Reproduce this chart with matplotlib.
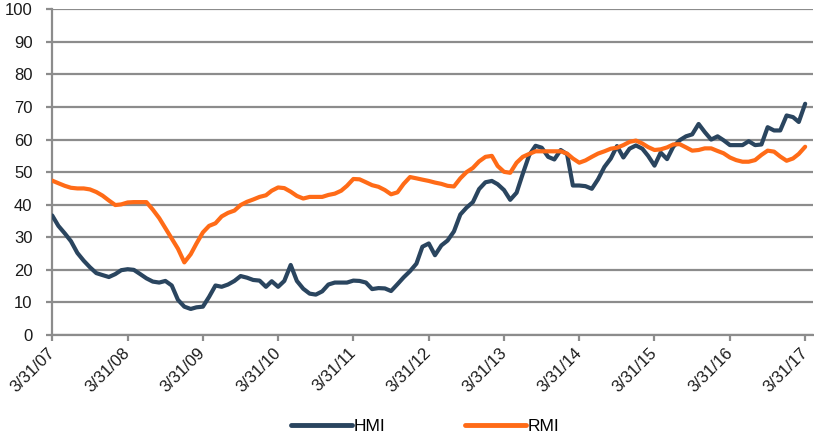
import matplotlib
matplotlib.use("Agg")
import matplotlib.pyplot as plt
import pandas as pd

# ---- data (monthly) ----
dates = pd.date_range("2007-03-31", "2017-03-31", freq="ME")

hmi = [36.7, 33.5, 31.2, 28.8, 25.2, 22.8, 20.8, 19.0, 18.4, 17.8, 18.7, 19.9,
       20.2, 20.0, 18.7, 17.4, 16.4, 16.1, 16.6, 15.2, 10.8, 8.7, 8.0, 8.5,
       8.7, 11.7, 15.2, 14.8, 15.5, 16.6, 18.1, 17.6, 16.9, 16.7, 14.8, 16.5,
       14.8, 16.6, 21.5, 16.6, 14.2, 12.7, 12.4, 13.4, 15.5, 16.1, 16.1, 16.1,
       16.7, 16.6, 16.1, 14.1, 14.4, 14.3, 13.5, 15.6, 17.7, 19.6, 21.9, 27.1,
       28.1, 24.5, 27.5, 29.0, 31.8, 37.0, 39.1, 40.8, 44.8, 46.9, 47.3, 46.3,
       44.5, 41.5, 43.7, 49.5, 55.2, 58.1, 57.5, 54.7, 53.9, 56.8, 55.5, 45.9,
       45.9, 45.7, 44.9, 47.8, 51.6, 54.2, 58.0, 54.5, 57.2, 58.2, 57.2, 55.0,
       52.0, 56.0, 54.0, 57.8, 59.8, 61.0, 61.6, 64.8, 62.3, 60.0, 61.0, 59.8,
       58.3, 58.3, 58.3, 59.5, 58.3, 58.5, 63.8, 62.8, 62.8, 67.4, 66.9, 65.4,
       71.0]

rmi = [47.4, 46.6, 45.8, 45.2, 45.0, 45.0, 44.7, 43.9, 42.8, 41.3, 39.9, 40.1,
       40.7, 40.8, 40.8, 40.8, 38.5, 35.9, 32.8, 29.6, 26.5, 22.3, 24.8, 28.1,
       31.5, 33.5, 34.3, 36.4, 37.5, 38.2, 39.9, 40.9, 41.6, 42.4, 42.9, 44.3,
       45.3, 45.1, 44.0, 42.7, 41.9, 42.4, 42.4, 42.4, 43.0, 43.4, 44.3, 45.8,
       47.9, 47.8, 46.9, 46.0, 45.5, 44.5, 43.2, 43.8, 46.4, 48.5, 48.1, 47.7,
       47.3, 46.8, 46.4, 45.8, 45.6, 48.1, 50.0, 51.3, 53.3, 54.7, 55.0, 51.9,
       50.1, 49.8, 52.9, 54.7, 55.6, 56.4, 56.4, 56.4, 56.4, 56.4, 55.7, 54.2,
       52.9, 53.6, 54.7, 55.7, 56.4, 57.2, 57.5, 58.3, 59.3, 59.7, 58.8, 57.7,
       56.8, 57.0, 57.6, 58.5, 58.6, 57.6, 56.6, 56.8, 57.3, 57.3, 56.5, 55.8,
       54.5, 53.7, 53.2, 53.2, 53.7, 55.3, 56.6, 56.3, 54.8, 53.5, 54.2, 55.6,
       57.8]

tick_dates = pd.date_range("2007-03-31", "2017-03-31", freq="12ME")
tick_labels = ["3/31/07", "3/31/08", "3/31/09", "3/31/10", "3/31/11", "3/31/12",
               "3/31/13", "3/31/14", "3/31/15", "3/31/16", "3/31/17"]
series_names = ["HMI", "RMI"]
y_ticks = list(range(0, 101, 10))

# ---- style ----
plt.rcParams["font.family"] = ["Liberation Sans", "DejaVu Sans"]
GRID = "#8C8C8C"
C_HMI = "#2A455F"
C_RMI = "#FF6B17"

fig = plt.figure(figsize=(8.14, 4.37), dpi=100)
W, H = 814, 437
left, right, top, bottom = 52, 813, 9.3, 335
ax = fig.add_axes([left / W, 1 - bottom / H, (right - left) / W, (bottom - top) / H])

ax.plot(dates, hmi, color=C_HMI, lw=3.0, solid_joinstyle="round",
        solid_capstyle="round", label=series_names[0], zorder=3)
ax.plot(dates, rmi, color=C_RMI, lw=3.0, solid_joinstyle="round",
        solid_capstyle="round", label=series_names[1], zorder=3)

ax.set_ylim(0, 100)
ax.set_yticks(y_ticks)
ax.set_xlim(tick_dates[0] - pd.Timedelta(days=1), tick_dates[-1] + pd.Timedelta(days=38))
ax.set_xticks(tick_dates)
ax.set_xticklabels(tick_labels, rotation=45, ha="right", va="center",
                   rotation_mode="anchor")

ax.yaxis.grid(True, color=GRID, lw=1.6, zorder=0)
ax.set_axisbelow(True)
for s in ["top", "right"]:
    ax.spines[s].set_visible(False)
for s in ["left", "bottom"]:
    ax.spines[s].set_color(GRID)
    ax.spines[s].set_linewidth(1.6)

ax.tick_params(axis="y", direction="out", length=4, width=1.6, color=GRID,
               labelsize=12, pad=10, labelcolor="#1a1a1a")
ax.tick_params(axis="x", direction="out", length=4, width=1.6, color=GRID,
               labelsize=12, pad=7, labelcolor="#1a1a1a")

leg = fig.legend(loc="center", bbox_to_anchor=(425 / W, 1 - 426.5 / H), ncol=2,
                 frameon=False, fontsize=12.5, handlelength=3.5,
                 handletextpad=0.1, columnspacing=4.6)
for line in leg.get_lines():
    line.set_linewidth(3.5)
    line.set_solid_capstyle("round")

fig.savefig("out.png", dpi=100)
